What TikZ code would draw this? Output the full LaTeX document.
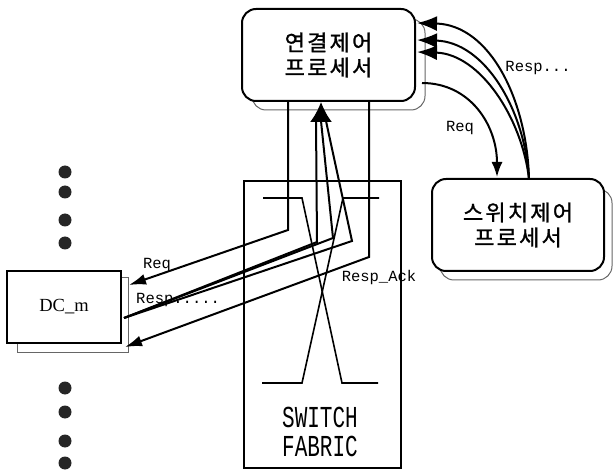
\documentclass[tikz,border=0pt]{standalone}
\usepackage{fontspec}
\usepackage{graphicx}
\setmainfont{Liberation Serif}
\newfontfamily\kr[LetterSpace=10, FakeBold=1.2]{Noto Sans CJK KR}
\newfontfamily\lbl{Liberation Mono}
\usetikzlibrary{arrows.meta}
\begin{document}
\begin{tikzpicture}[x=1pt,y=-1pt,
  ln/.style={line width=2pt},
  shadowbox/.style={draw=black!60, line width=1pt},
  procbox/.style={draw, line width=2pt, fill=white, rounded corners=14pt,
    minimum width=173pt, minimum height=92pt, align=center, inner sep=0pt,
    font=\kr\fontsize{22}{25}\selectfont},
  lab/.style={font=\lbl\fontsize{15.5}{18}\selectfont, inner sep=1pt},
  bigtip/.style={-{Latex[length=20pt,width=22pt]}},
  midtip/.style={-{Latex[length=17pt,width=11pt]}},
  resptip/.style={-{Latex[length=20pt,width=15pt]}},
  dot/.style={fill=black!85}
]
\useasboundingbox (0,0) rectangle (613,470);

% connection control processor
\draw[shadowbox, rounded corners=14pt] (252,19) rectangle (425,110);
\node[procbox] (cp) at (328.5,55) {연결제어\\프로세서};

% switch control processor
\draw[shadowbox, rounded corners=14pt] (440,189) rectangle (612,280);
\node[procbox, minimum width=172pt] (sp) at (518,225) {스위치제어\\프로세서};

% DC_m
\draw[shadowbox] (17,278) rectangle (128,352);
\node[draw, line width=1.8pt, fill=white, minimum width=114pt, minimum height=72pt, inner sep=0pt,
  font=\fontsize{18.5}{20}\selectfont] (dc) at (64,307) {DC\_m};

% switch fabric
\node[draw, line width=1.5pt, minimum width=157pt, minimum height=287pt, inner sep=0pt] (sf) at (322.5,324.5) {};
\node[align=center, inner sep=0pt] (sft) at (320,432)
  {\scalebox{1}[1.45]{\lbl\fontsize{21}{22}\selectfont SWITCH}\\[8pt]\scalebox{1}[1.45]{\lbl\fontsize{21}{22}\selectfont FABRIC}};
\draw[ln, line width=1.6pt] (263,198) -- (302,198) -- (342,383) -- (378,383);
\draw[ln, line width=1.6pt] (379,198) -- (343,198) -- (302,383) -- (262,383);

% dots
\foreach \yy in {172,192,220,243,388,412,441,463}
  \fill[dot] (65,\yy) circle (6.5pt);

% coordinates
\coordinate (dcA) at (129,285);
\coordinate (dcM) at (124,318);
\coordinate (dcB) at (125,347);
\coordinate (c1) at (288,230);
\coordinate (c3) at (369,257);
\coordinate (m1) at (317,242);
\coordinate (m2) at (333,238);
\coordinate (m3) at (352,241);
\coordinate (t1) at (316,121);
\coordinate (t2) at (321,121);
\coordinate (t3) at (326,121);

% request to DC
\draw[ln, midtip] (c1 |- cp.south) -- (c1) -- (dcA);
% responses from DC
\draw[ln] (dcM) -- (m1) -- (t1);
\draw[ln] (dcM) -- (m2) -- (t2);
\draw[ln] (dcM) -- (m3) -- (t3);
\draw[ln, bigtip] (t2) -- (t2 |- cp.south);
% resp to DC
\draw[ln, midtip] (c3 |- cp.south) -- (c3) -- (dcB);

% switch control exchanges
\coordinate (s1) at (529,179);
\coordinate (r1) at (417,23);
\coordinate (r2) at (417,40);
\coordinate (r3) at (417,52);
\draw[ln, resptip] (s1) .. controls (527,100) and (490,25) .. (r1);
\draw[ln, resptip] (s1) .. controls (525,110) and (485,42) .. (r2);
\draw[ln, resptip] (s1) .. controls (522,118) and (480,54) .. (r3);
\coordinate (q0) at (422,83);
\coordinate (q1) at (497,177);
\draw[ln, -{Latex[length=15pt,width=11pt]}] (q0) .. controls (470,83) and (497,125) .. (q1);

% labels
\node[lab] (lreq1) at (157,265) {Req};
\node[lab, anchor=west] (lresp1) at (135,300) {Resp.....};
\node[lab] (lack) at (379,277) {Resp\_Ack};
\node[lab] (lresp2) at (538,68) {Resp...};
\node[lab] (lreq2) at (460,128) {Req};
\end{tikzpicture}
\end{document}
